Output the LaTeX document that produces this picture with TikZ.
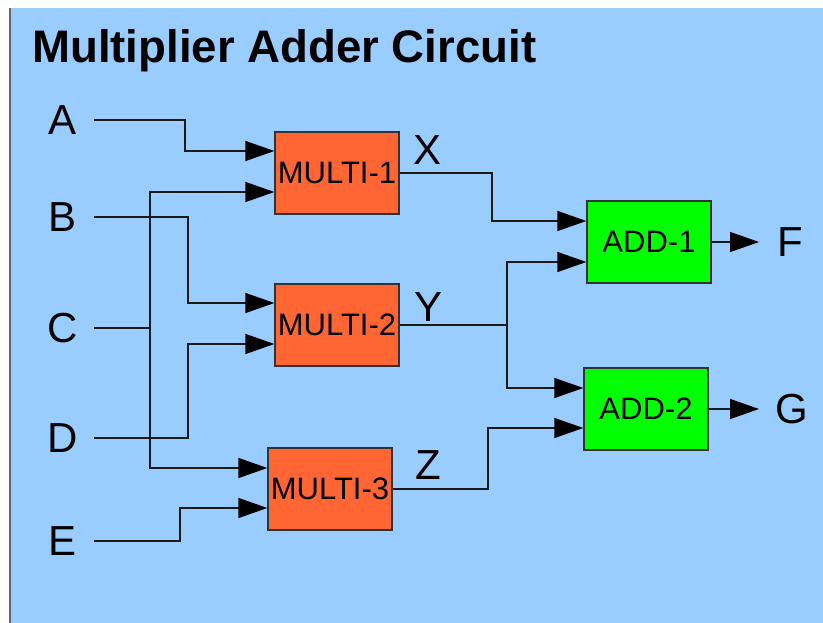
\documentclass[tikz,border=0pt]{standalone}
\usepackage{fontspec}
\setmainfont{Liberation Sans}
\usetikzlibrary{arrows.meta}
\definecolor{bgblue}{HTML}{99CCFF}
\definecolor{multic}{HTML}{FF6633}
\definecolor{addc}{HTML}{00FF00}
\definecolor{edge}{HTML}{333333}
\tikzset{
  blk/.style={draw=edge, line width=1.3pt, minimum width=124pt, minimum height=82pt, inner sep=0pt, font=\fontsize{31}{37}\selectfont},
  multibox/.style={blk, fill=multic},
  addbox/.style={blk, fill=addc},
  sig/.style={inner sep=0pt, font=\fontsize{42}{50}\selectfont},
  wire/.style={draw=black!90, line width=1.3pt},
  arr/.style={wire, -{Triangle[length=29pt,width=20pt,color=black]}}
}
\begin{document}
\begin{tikzpicture}[x=1pt,y=-1pt]
\useasboundingbox (0,0) rectangle (823,623);
\fill[white] (0,0) rectangle (823,623);
\fill[bgblue] (11,8) rectangle (823,623);
\draw[color=black!60, line width=2pt] (10,8) -- (10,623);
\node[anchor=base west, inner sep=0pt, font=\fontsize{45.6}{54}\selectfont\bfseries] (title) at (32,63) {Multiplier Adder Circuit};
% signal labels
\node[sig] (A) at (63,120) {A};
\node[sig] (B) at (63,217) {B};
\node[sig] (C) at (63,328) {C};
\node[sig] (D) at (63,438) {D};
\node[sig] (E) at (63,541) {E};
\node[sig] (X) at (428,150) {X};
\node[sig] (Y) at (429,307) {Y};
\node[sig] (Z) at (428,465) {Z};
\node[sig] (F) at (790,242) {F};
\node[sig] (G) at (792,409) {G};
% blocks
\node[multibox] (m1) at (337,173) {MULTI-1};
\node[multibox] (m2) at (337,325) {MULTI-2};
\node[multibox] (m3) at (330,489) {MULTI-3};
\node[addbox] (a1) at (649,242) {ADD-1};
\node[addbox] (a2) at (646,409) {ADD-2};
% junctions
\coordinate (cj) at (150,328);
\coordinate (yj) at (507,325);
% wires
\draw[arr] ([xshift=17pt]A.east) -| (185,151) -- (m1.west |- 0,151);
\draw[wire] ([xshift=16pt]C.east) -- (cj);
\draw[arr] (cj) |- (m1.west |- 0,192);
\draw[arr] (cj) |- (m3.west |- 0,468);
\draw[arr] ([xshift=17pt]B.east) -| (188,303) -- (m2.west |- 0,303);
\draw[arr] ([xshift=16pt]D.east) -| (188,344) -- (m2.west |- 0,344);
\draw[arr] ([xshift=17pt]E.east) -| (180,508) -- (m3.west |- 0,508);
\draw[arr] (m1.east) -| (492,221) -- (a1.west |- 0,221);
\draw[wire] (m2.east) -- (yj);
\draw[arr] (yj) |- (a1.west |- 0,262);
\draw[arr] (yj) |- (a2.west |- 0,388);
\draw[arr] (m3.east) -| (488,428) -- (a2.west |- 0,428);
\draw[arr] (a1.east) -- (759,242);
\draw[arr] (a2.east) -- (759,409);
\end{tikzpicture}
\end{document}
